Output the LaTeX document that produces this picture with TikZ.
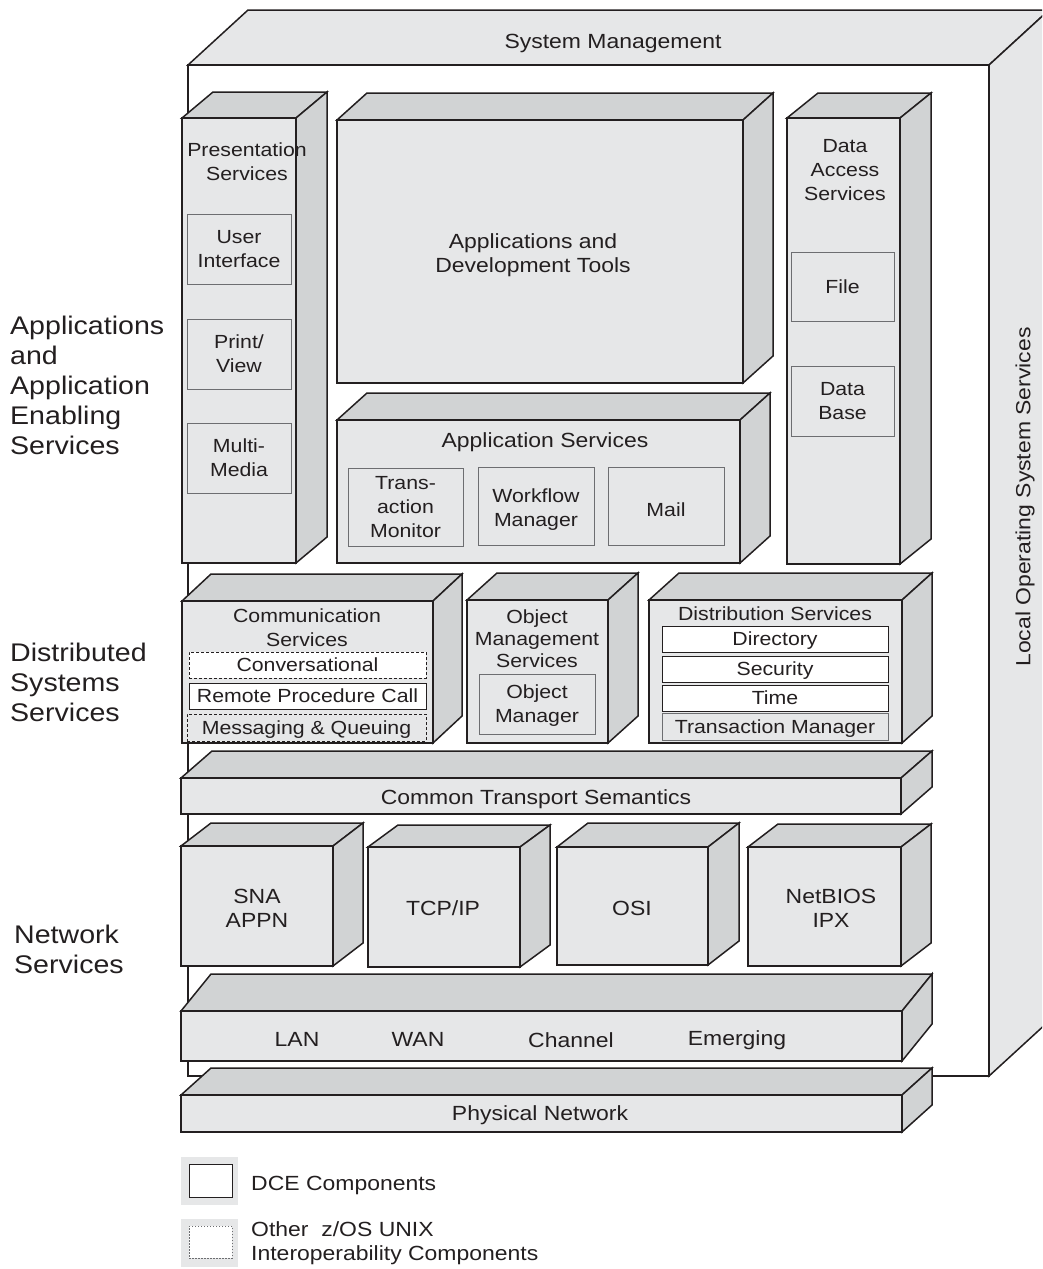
\documentclass[tikz,border=0pt]{standalone}
\usepackage{fontspec}
\setmainfont{Liberation Sans}[FakeStretch=1.12]
\usetikzlibrary{fit}
\definecolor{facegray}{RGB}{230,231,232}
\definecolor{sidegray}{RGB}{209,211,212}
\definecolor{linecol}{RGB}{35,31,32}
\definecolor{thincol}{RGB}{109,110,113}
\tikzset{
  boxline/.style={draw=linecol, line width=1.5pt, line join=miter},
  frontface/.style={boxline, fill=facegray, inner sep=0pt, outer sep=0pt},
  bigtxt/.style={font=\fontsize{20.5}{24}\selectfont, text=linecol, align=center, inner sep=0pt, text depth=0pt},
  smalltxt/.style={font=\fontsize{19}{24}\selectfont, text=linecol, align=center, inner sep=0pt, text depth=0pt},
  lefttxt/.style={font=\fontsize{25.5}{30}\selectfont, text=linecol, align=left, inner sep=0pt, anchor=west},
  graybox/.style={draw=thincol, line width=1pt, fill=facegray, inner sep=0pt},
  dcebox/.style={draw=linecol, line width=1pt, fill=white, inner sep=0pt},
  otherbox/.style={draw=linecol, line width=1pt, dash pattern=on 3pt off 2pt, inner sep=0pt},
}
% name, x1, y1, x2, y2, dx, dy  (pixel coordinates, y downward)
\newcommand\cubebox[7]{%
  \filldraw[boxline, fill=sidegray] (#2,#3) -- (#2+#6,#3-#7) -- (#4+#6,#3-#7) -- (#4,#3) -- cycle;
  \filldraw[boxline, fill=sidegray] (#4,#3) -- (#4+#6,#3-#7) -- (#4+#6,#5-#7) -- (#4,#5) -- cycle;
  \node[frontface, fit={(#2,#3) (#4,#5)}] (#1) {};
}
\begin{document}
\begin{tikzpicture}[x=1pt, y=-1pt]
\useasboundingbox (0,0) rectangle (1042,1269);
\begin{scope}
\clip (0,0) rectangle (1042,1269);
% outer System Management frame
\filldraw[boxline, fill=facegray] (188,65) -- (248,10) -- (1049,10) -- (989,65) -- cycle;
\filldraw[boxline, fill=facegray] (989,65) -- (1049,10) -- (1049,1021) -- (989,1076) -- cycle;
\node[boxline, fill=white, inner sep=0pt, fit={(188,65) (989,1076)}] (frame) {};
\end{scope}
\node[bigtxt] (sysmgmt) at (613,41) {System Management};
\node[bigtxt, rotate=90] (localos) at (1023,497) {Local Operating System Services};

% Presentation Services
\cubebox{pres}{182}{118}{296}{563}{31}{26}
\node[smalltxt] (prest) at (247,162) {Presentation\\Services};
\node[graybox, minimum width=104pt, minimum height=70pt, smalltxt] (ui) at (239,249) {User\\Interface};
\node[graybox, minimum width=104pt, minimum height=70pt, smalltxt] (pv) at (239,354) {Print/\\View};
\node[graybox, minimum width=104pt, minimum height=70pt, smalltxt] (mm) at (239,458) {Multi-\\Media};

% Applications and Development Tools
\cubebox{adt}{337}{120}{743}{383}{30}{27}
\node[bigtxt] (adtt) at (533,253) {Applications and\\Development Tools};

% Data Access Services
\cubebox{das}{787}{118}{900}{564}{31}{25}
\node[smalltxt] (dast) at (845,170) {Data\\Access\\Services};
\node[graybox, minimum width=103pt, minimum height=69pt, smalltxt] (file) at (842.5,287) {File};
\node[graybox, minimum width=103pt, minimum height=70pt, smalltxt] (db) at (842.5,401) {Data\\Base};

% Application Services
\cubebox{aps}{337}{420}{740}{563}{30}{27}
\node[bigtxt] (apst) at (545,440) {Application Services};
\node[graybox, minimum width=115pt, minimum height=78pt, smalltxt] (tm) at (405.5,507) {Trans-\\action\\Monitor};
\node[graybox, minimum width=116pt, minimum height=78pt] (wm) at (536,506) {};
\node[smalltxt] (wmt) at (536,508) {Workflow\\Manager};
\node[graybox, minimum width=116pt, minimum height=78pt] (mail) at (666,506) {};
\node[smalltxt] (mailt) at (666,510) {Mail};

% Communication Services
\cubebox{comm}{182}{601}{433}{743}{29}{27}
\node[smalltxt] (commt) at (307,628) {Communication\\Services};
\node[otherbox, fill=white, minimum width=237pt, minimum height=26pt, smalltxt] (conv) at (307.5,665) {Conversational};
\node[dcebox, minimum width=237pt, minimum height=26pt, smalltxt] (rpc) at (307.5,696) {Remote Procedure Call};
\node[otherbox, fill=facegray, minimum width=239pt, minimum height=27pt, smalltxt] (mq) at (306.5,727.5) {Messaging \& Queuing};

% Object Management Services
\cubebox{oms}{467}{600}{608}{743}{30}{27}
\node[smalltxt, font=\fontsize{19}{22}\selectfont] (omst) at (537,639) {Object\\Management\\Services};
\node[graybox, minimum width=116pt, minimum height=60pt, smalltxt] (om) at (537,704) {Object\\Manager};

% Distribution Services
\cubebox{dist}{649}{600}{902}{743}{30}{27}
\node[smalltxt] (distt) at (775,614) {Distribution Services};
\node[dcebox, minimum width=226pt, minimum height=26pt, smalltxt] (dir) at (775,639) {Directory};
\node[dcebox, minimum width=226pt, minimum height=26pt, smalltxt] (sec) at (775,669) {Security};
\node[dcebox, minimum width=226pt, minimum height=26pt, smalltxt] (time) at (775,698) {Time};
\node[graybox, minimum width=226pt, minimum height=27pt, smalltxt] (trm) at (775,726.5) {Transaction Manager};

% Common Transport Semantics
\cubebox{cts}{181}{778}{901}{814}{31}{27}
\node[bigtxt] (ctst) at (536,797) {Common Transport Semantics};

% Network protocol boxes
\cubebox{sna}{181}{846}{333}{966}{30}{23}
\node[bigtxt] (snat) at (257,908) {SNA\\APPN};
\cubebox{tcp}{368}{847}{520}{967}{30}{22}
\node[bigtxt] (tcpt) at (443,908) {TCP/IP};
\cubebox{osi}{557}{847}{708}{965}{31}{24}
\node[bigtxt] (osit) at (632,908) {OSI};
\cubebox{nb}{748}{847}{901}{966}{30}{23}
\node[bigtxt] (nbt) at (831,908) {NetBIOS\\IPX};

% LAN / WAN bar
\cubebox{lan}{181}{1011}{902}{1061}{30}{37}
\node[bigtxt] (lant) at (297,1039) {LAN};
\node[bigtxt] (want) at (418,1039) {WAN};
\node[bigtxt] (chant) at (571,1040) {Channel};
\node[bigtxt] (emt) at (737,1038) {Emerging};

% Physical Network
\cubebox{phys}{181}{1095}{902}{1132}{30}{27}
\node[bigtxt] (physt) at (540,1113) {Physical Network};

% Left labels
\node[lefttxt] (lab1) at (10,385) {Applications\\and\\Application\\Enabling\\Services};
\node[lefttxt] (lab2) at (10,682) {Distributed\\Systems\\Services};
\node[lefttxt] (lab3) at (14,949) {Network\\Services};

% Legend
\fill[facegray] (181,1157) rectangle (238,1205);
\node[dcebox, fit={(189,1164) (232,1197)}] (legdce) {};
\node[bigtxt, anchor=west] (legdcet) at (251,1183) {DCE Components};
\fill[facegray] (181,1219) rectangle (238,1267);
\node[draw=thincol, line width=1pt, dash pattern=on 1.5pt off 1.5pt, fill=white, inner sep=0pt, fit={(189,1226) (232,1258)}] (legoth) {};
\node[bigtxt, anchor=west, align=left] (legotht) at (251,1241) {Other\ \ z/OS UNIX\\Interoperability Components};
\end{tikzpicture}
\end{document}
